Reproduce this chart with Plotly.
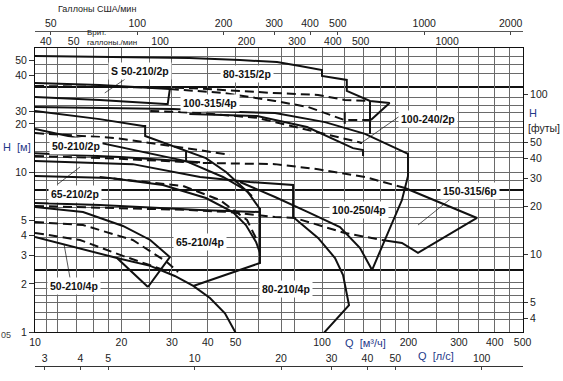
import plotly.graph_objects as go

# ---------------- tick labels ----------------
q_ticks = [10, 20, 30, 40, 50, 100, 200, 300, 400, 500]
h_ticks = [1, 2, 3, 4, 5, 10, 20, 24, 40, 50, 60]
h_ticktext = ["1", "2", "3", "4", "5", "10", "20", "30", "40", "50", "60"]
ft_ticks = [4, 5, 10, 20, 30, 40, 50, 100]
usgpm_ticks = [50, 100, 200, 300, 400, 500, 1000, 2000]
impgpm_ticks = [40, 50, 100, 200, 300, 400, 500, 1000]
ls_ticks = [3, 4, 5, 10, 20, 30, 40, 50, 100]

grid_q = [11, 12, 14, 16, 18, 20, 25, 30, 40, 50, 60, 72, 80, 100, 120, 140,
          160, 180, 200, 250, 300, 350, 400, 450]
grid_h = [1.19, 1.33, 1.52, 1.7, 1.88, 2.05, 2.95, 3.35, 3.9, 4.8, 5.2, 6.0,
          6.7, 8.8, 10, 12.4, 13.5, 15.4, 17.3, 19.1, 20.8, 23.7, 26, 29.4,
          41.5, 47, 53]
bold_h = [34, 7.7, 2.44]

# ---------------- curves (Q m3/h, H m) ----------------
c01_q = [10, 19.8, 34.5, 51.8, 69.7, 83.8, 98.4, 100, 100, 120, 122, 122, 147, 172, 148]
c01_h = [53.1, 52.3, 51.6, 50.1, 48.7, 46.0, 43.4, 43.4, 39.8, 37.6, 37.6, 32.1, 27.8, 27.0, 21.1]
c02_q = [147, 147]
c02_h = [27.8, 17.3]
c03_q = [10, 16.8, 29.5]
c03_h = [36.0, 35.0, 33.0]
c04_q = [29.5, 45.2, 68.6, 89.4, 120, 147]
c04_h = [33.0, 31.2, 27.8, 25.5, 21.1, 21.1]
c05_q = [10, 19.8, 34.5, 67.5, 96.9, 120, 144.6]
c05_h = [34.5, 34.0, 33.5, 31.2, 30.3, 28.2, 27.8]
c06_q = [10, 16.8, 28.5, 29.0, 29.5]
c06_h = [29.4, 28.2, 26.6, 26.6, 33.0]
c07_q = [10, 30.2, 51.8, 68.6, 102.4, 141.2, 199.4, 199.4, 189.9, 165.8, 149.4]
c07_h = [25.5, 24.8, 23.7, 23.4, 20.5, 17.3, 13.0, 9.44, 6.68, 3.76, 2.44]
c08_q = [25.2, 37.6, 59.4, 100.8, 137.9]
c08_h = [24.1, 23.4, 21.8, 17.5, 15.2]
c09_q = [34.5, 59.4, 88.7, 128.2, 139, 139]
c09_h = [23.0, 22.4, 19.1, 14.1, 13.7, 12.6]
c10_q = [120, 120]
c10_h = [23.7, 20.0]
c11_q = [10, 16.8, 23.8, 24.2, 24.2, 33.6, 39.4, 46.3, 51.8, 57.0]
c11_h = [24.1, 21.4, 19.4, 19.4, 16.8, 13.5, 12.2, 10.0, 8.29, 7.08]
c12_q = [33.6, 33.6]
c12_h = [13.5, 11.7]
c13_q = [10, 18.25, 33.6, 45.2, 54.8, 60.8]
c13_h = [18.6, 14.7, 11.7, 9.31, 7.61, 5.87]
c14_q = [10, 19.15, 33.6, 47.7]
c14_h = [17.5, 16.3, 14.1, 12.8]
c15_q = [10, 19.8, 37.6]
c15_h = [13.1, 12.4, 11.5]
c16_q = [10, 19.8, 37.6, 68.6, 96.9, 141.2, 194.6]
c16_h = [12.6, 12.1, 11.4, 11.2, 10.4, 9.31, 7.94]
c17_q = [194.6, 346.8, 216, 189.9, 161.8]
c17_h = [7.94, 5.16, 3.12, 3.60, 3.76]
c18_q = [10, 16.8, 34.5, 47.7, 68.6, 80.5, 120, 161.8]
c18_h = [6.13, 5.96, 5.79, 5.62, 5.23, 5.16, 4.16, 3.76]
c19_q = [10, 16.8, 37.6, 60.8]
c19_h = [6.40, 6.22, 5.79, 5.62]
c20_q = [10, 21.9, 37.6, 56.1, 79.3, 79.3]
c20_h = [11.7, 11.2, 9.31, 8.66, 8.29, 5.23]
c21_q = [10, 18.25, 27.9, 39.4, 48.9, 54.3, 58.9, 60.8]
c21_h = [9.44, 9.17, 8.29, 6.88, 5.62, 4.66, 3.65, 3.12]
c22_q = [16.8, 32.8, 44.1, 54.8, 59.8]
c22_h = [9.31, 8.18, 6.68, 5.01, 3.65]
c23_q = [60.8, 60.8, 35.6]
c23_h = [5.96, 2.70, 1.94]
c24_q = [10, 14.7, 20.25, 25.2, 29.5, 24.75]
c24_h = [6.04, 5.62, 4.60, 3.76, 2.94, 1.91]
c25_q = [10, 14.7, 21.9, 28.8, 31.5]
c25_h = [4.87, 4.66, 3.76, 2.74, 2.37]
c26_q = [10, 19.3, 24.75]
c26_h = [3.93, 2.90, 1.91]
c27_q = [10, 14.35, 20.25, 25.2, 29.5]
c27_h = [4.16, 3.76, 2.99, 2.62, 2.37]
c28_q = [19.3, 25.2, 30.7, 35.6, 40.7, 45.9, 50.5]
c28_h = [2.90, 2.59, 2.24, 1.94, 1.63, 1.31, 0.958]
c29_q = [79.3, 96.9, 111, 118.4, 124.2, 100]
c29_h = [5.23, 3.87, 2.90, 2.27, 1.47, 0.958]
c30_q = [51.8, 68.6, 89.4, 115.5, 135.7, 149.4]
c30_h = [8.66, 6.98, 5.62, 4.53, 3.35, 2.44]

solid_curves = [(c01_q, c01_h), (c02_q, c02_h), (c03_q, c03_h), (c06_q, c06_h),
                (c07_q, c07_h), (c09_q, c09_h), (c10_q, c10_h), (c11_q, c11_h),
                (c12_q, c12_h), (c13_q, c13_h), (c15_q, c15_h), (c17_q, c17_h),
                (c19_q, c19_h), (c20_q, c20_h), (c21_q, c21_h), (c23_q, c23_h),
                (c24_q, c24_h), (c26_q, c26_h), (c28_q, c28_h), (c29_q, c29_h),
                (c30_q, c30_h)]
dashed_curves = [(c04_q, c04_h), (c05_q, c05_h), (c08_q, c08_h), (c14_q, c14_h),
                 (c16_q, c16_h), (c18_q, c18_h), (c22_q, c22_h), (c25_q, c25_h),
                 (c27_q, c27_h)]

# leader lines
ld_q = [[17.5, 20.6], [186.8, 135.7], [14.35, 12.02], [286, 216], [13.24, 12.62]]
ld_h = [[31.2, 38.1], [22.4, 15.0], [10.75, 8.41], [6.98, 4.66], [2.18, 3.55]]

# ---------------- figure ----------------
W, HP = 563, 381
def px(x):
    return x / W
def py(y):
    return 1 - y / HP

FONT = "Liberation Sans, Arial, sans-serif"
INK = "#111111"
NAVY = "#1f3a8a"

fig = go.Figure()

for q, h in solid_curves:
    fig.add_trace(go.Scatter(x=q, y=h, mode="lines", line=dict(color=INK, width=2),
                             hoverinfo="skip", showlegend=False))
for q, h in dashed_curves:
    fig.add_trace(go.Scatter(x=q, y=h, mode="lines",
                             line=dict(color=INK, width=2, dash="9px,5px"),
                             hoverinfo="skip", showlegend=False))
for q, h in zip(ld_q, ld_h):
    fig.add_trace(go.Scatter(x=q, y=h, mode="lines", line=dict(color=INK, width=0.7),
                             hoverinfo="skip", showlegend=False))

# dummy traces to register the extra axes
def dummy(xa, ya, xv, yv):
    fig.add_trace(go.Scatter(x=[xv], y=[yv], xaxis=xa, yaxis=ya, mode="markers",
                             marker=dict(opacity=0), hoverinfo="skip", showlegend=False))

dummy("x2", "y", 100, 10)
dummy("x3", "y", 100, 10)
dummy("x4", "y", 10, 10)
dummy("x5", "y", 100, 10)
dummy("x", "y2", 100, 30)
dummy("x", "y3", 100, 10)
dummy("x", "y4", 100, 10)

XD = [px(35), px(523)]
YD = [py(332), py(48)]
XR = [1, 2.70035]
YR = [0, 1.775]
tf = dict(family=FONT, size=10.5, color="#222")

common_x = dict(type="log", domain=XD, automargin=False, zeroline=False, fixedrange=True)
common_y = dict(type="log", domain=YD, automargin=False, zeroline=False, fixedrange=True)

fig.update_layout(
    width=W, height=HP,
    margin=dict(l=0, r=0, t=0, b=0, autoexpand=False),
    paper_bgcolor="white", plot_bgcolor="white",
    showlegend=False,
    xaxis=dict(**common_x, range=XR, anchor="y", tickvals=q_ticks,
               ticktext=[str(v) for v in q_ticks], ticks="", showgrid=False,
               showline=True, mirror=True, linecolor="#111", linewidth=1, tickfont=tf),
    xaxis2=dict(**common_x, range=[1.56420, 3.26455], overlaying="x", side="top",
                anchor="y", tickvals=impgpm_ticks, ticktext=[str(v) for v in impgpm_ticks],
                ticks="", showgrid=False, showline=False, tickfont=tf),
    xaxis3=dict(**common_x, range=[1.64374, 3.34409], overlaying="x", side="top",
                anchor="free", position=py(31), tickvals=usgpm_ticks,
                ticktext=[str(v) for v in usgpm_ticks], ticks="inside", ticklen=3,
                tickcolor="#444", showgrid=False, showline=True, linecolor="#555",
                linewidth=1, tickfont=tf),
    xaxis4=dict(**common_x, range=[0.44370, 2.14405], overlaying="x", side="top",
                anchor="free", position=py(366), tickvals=ls_ticks,
                ticktext=[str(v) for v in ls_ticks], ticks="inside", ticklen=3,
                tickcolor="#444", showgrid=False, showline=True, linecolor="#333",
                linewidth=1, tickfont=tf),
    xaxis5=dict(**common_x, range=XR, overlaying="x", anchor="y", tickvals=grid_q,
                showticklabels=False, ticks="", showgrid=True, gridcolor="#6a6a6a",
                gridwidth=1, showline=False),
    yaxis=dict(**common_y, range=YR, anchor="x", tickvals=h_ticks, ticktext=h_ticktext,
               ticks="outside", ticklen=5, tickcolor="#333", showgrid=False,
               showline=True, mirror=True, linecolor="#111", linewidth=1, tickfont=tf),
    yaxis2=dict(**common_y, range=[0.51599, 2.29099], overlaying="y", side="right",
                anchor="x", tickvals=ft_ticks, ticktext=[str(v) for v in ft_ticks],
                ticks="outside", ticklen=4, tickcolor="#333", showgrid=False,
                showline=False, tickfont=tf),
    yaxis3=dict(**common_y, range=YR, overlaying="y", anchor="x", tickvals=grid_h,
                showticklabels=False, ticks="", showgrid=True, gridcolor="#6a6a6a",
                gridwidth=1, showline=False),
    yaxis4=dict(**common_y, range=YR, overlaying="y", anchor="x", tickvals=bold_h,
                showticklabels=False, ticks="", showgrid=True, gridcolor="#111",
                gridwidth=1.6, showline=False),
)

labels = [
    ("S 50-210/2p", 140, 71), ("80-315/2p", 247, 74), ("100-315/4p", 210, 103),
    ("100-240/2p", 428, 119), ("50-210/2p", 76, 146), ("65-210/2p", 75, 194),
    ("150-315/6p", 470, 191), ("100-250/4p", 359, 210), ("65-210/4p", 200, 242),
    ("50-210/4p", 74, 286), ("80-210/4p", 286, 289),
]
for text, x, y in labels:
    fig.add_annotation(text="<b>%s</b>" % text, x=px(x), y=py(y), xref="paper",
                       yref="paper", showarrow=False, bgcolor="white", borderpad=2,
                       xanchor="center", yanchor="middle",
                       font=dict(family=FONT, size=10.5, color=INK))

def note(text, x, y, size=10, color="#222", xanchor="center"):
    fig.add_annotation(text=text, x=px(x), y=py(y), xref="paper", yref="paper",
                       showarrow=False, xanchor=xanchor, yanchor="middle",
                       font=dict(family=FONT, size=size, color=color))

note("Галлоны США/мин", 97, 9, size=9)
note("Брит.", 85, 32.5, size=8, xanchor="left")
note("галлоны./мин", 85, 42, size=8, xanchor="left")
note("H  [м]", 17, 147, size=11, color=NAVY)
note("H", 527, 113, size=11, color=NAVY, xanchor="left")
note("[футы]", 526, 128, size=10.5, color="#222", xanchor="left")
note("Q  [м³/ч]", 343, 343, size=11, color=NAVY, xanchor="left")
note("Q  [л/с]", 416, 356, size=11, color=NAVY, xanchor="left")
note("05", 6, 335, size=9, color="#444")

fig.write_html("out.html", config={"displayModeBar": False},
               post_script="document.body.style.margin='0';document.body.style.padding='0';")
